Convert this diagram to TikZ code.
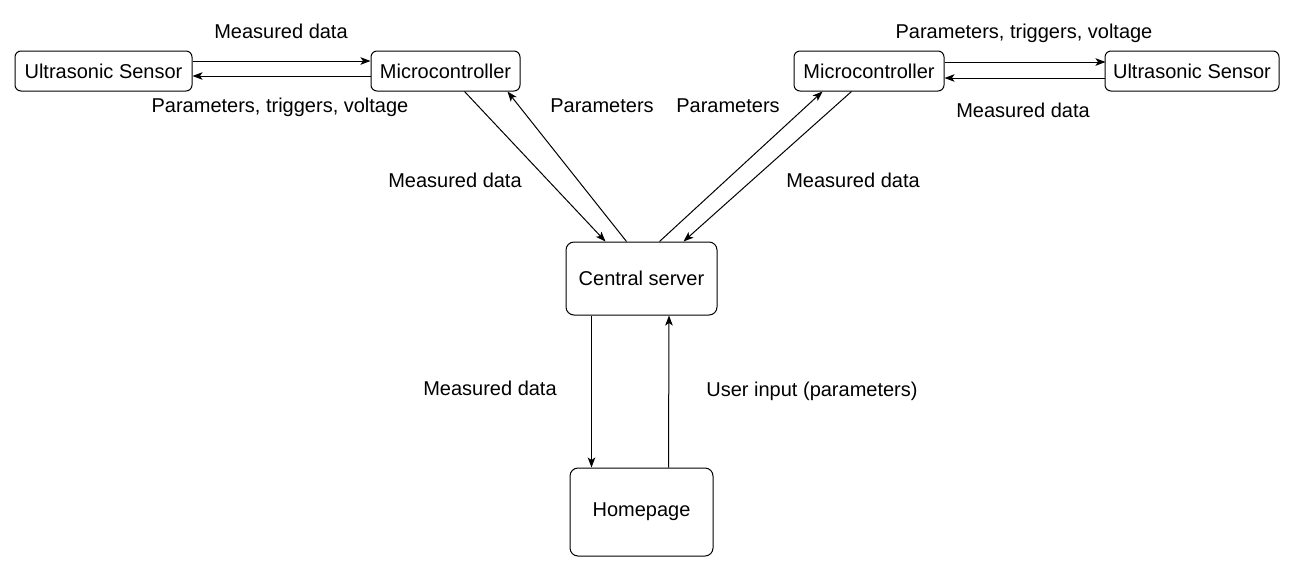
\documentclass[tikz,border=0pt]{standalone}
\usepackage{fontspec}
\setmainfont{Liberation Sans}
\usetikzlibrary{arrows.meta,calc}
\begin{document}
\begin{tikzpicture}[x=1pt,y=-1pt,
  box/.style={draw,line width=1pt,rounded corners=6pt,inner sep=0pt,font=\fontsize{20}{24}\selectfont},
  lbl/.style={inner sep=0pt,font=\fontsize{20}{24}\selectfont},
  arr/.style={line width=1pt,-{Stealth[length=10pt,width=7.5pt,inset=2.5pt]}}]
\useasboundingbox (0,0) rectangle (1295,571);
\node[box,minimum width=177pt,minimum height=40pt] (ls) at (103.5,71) {Ultrasonic Sensor};
\node[box,minimum width=149pt,minimum height=40pt] (lm) at (445.5,71) {Microcontroller};
\node[box,minimum width=150pt,minimum height=40pt] (rm) at (869,71) {Microcontroller};
\node[box,minimum width=174pt,minimum height=40pt] (rs) at (1192,71) {Ultrasonic Sensor};
\node[box,minimum width=151pt,minimum height=73pt,rounded corners=8pt] (cs) at (641.5,278.5) {Central server};
\node[box,minimum width=143pt,minimum height=88pt,rounded corners=8pt] (hp) at (641.5,512) {Homepage};
% left pair
\draw[arr] ($(ls.east)+(0,-10)$) -- ($(lm.west)+(0,-10)$);
\draw[arr] ($(lm.west)+(0,5)$) -- ($(ls.east)+(0,5)$);
% right pair
\draw[arr] ($(rm.east)+(0,-9)$) -- ($(rs.east)+(-174,-9)$);
\draw[arr] ($(rs.west)+(0,7)$) -- ($(rm.east)+(0,7)$);
% diagonals
\draw[arr] ($(lm.south west)+(94,0)$) -- ($(cs.north west)+(40,0)$);
\draw[arr] ($(cs.north west)+(61,0)$) -- ($(lm.south west)+(137,0)$);
\draw[arr] ($(cs.north west)+(94,0)$) -- ($(rm.south west)+(29,0)$);
\draw[arr] ($(rm.south west)+(58,0)$) -- ($(cs.north west)+(118,0)$);
% vertical
\draw[arr] ($(cs.south west)+(26,0)$) -- ($(hp.north west)+(22,0)$);
\draw[arr] ($(hp.north west)+(99,0)$) -- ($(cs.south west)+(103.5,0)$);
% labels
\node[lbl] (t1) at (281,31) {Measured data};
\node[lbl] (t2) at (280,107) {Parameters, triggers, voltage};
\node[lbl] (t3) at (602,106) {Parameters};
\node[lbl] (t4) at (455,180) {Measured data};
\node[lbl] (t5) at (728,106) {Parameters};
\node[lbl] (t6) at (853,180) {Measured data};
\node[lbl] (t7) at (1024,33) {Parameters, triggers, voltage};
\node[lbl] (t8) at (1023,110) {Measured data};
\node[lbl] (t9) at (490,388) {Measured data};
\node[lbl] (t10) at (812,391) {User input (parameters)};
\end{tikzpicture}
\end{document}
